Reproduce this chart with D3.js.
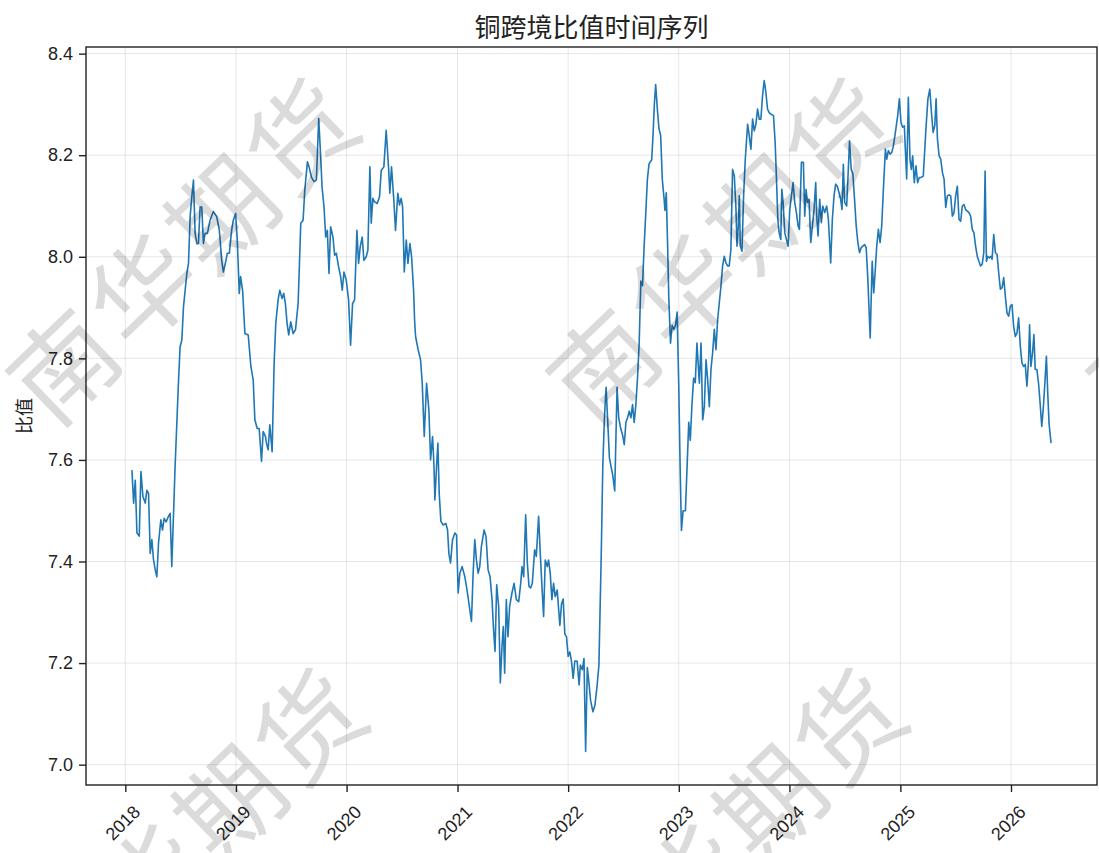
<!DOCTYPE html>
<html>
<head>
<meta charset="utf-8">
<script src="https://cdn.jsdelivr.net/npm/d3@7"></script>
<style>
  html, body { margin: 0; padding: 0; background: #fff; }
  svg { display: block; font-family: "Noto Sans CJK SC", "Noto Sans", sans-serif; }
</style>
</head>
<body>
<svg id="chart" width="1099" height="853"></svg>
<script>
// Weekly copper cross-border ratio (decimal years and ratio values)
const years = [
  2018.060,2018.075,2018.090,2018.105,2018.126,2018.141,2018.159,2018.180,2018.195,2018.210,
  2018.225,2018.240,2018.255,2018.270,2018.285,2018.300,2018.321,2018.336,2018.351,2018.369,
  2018.390,2018.405,2018.420,2018.450,2018.480,2018.495,2018.511,2018.526,2018.556,2018.571,
  2018.586,2018.601,2018.616,2018.631,2018.646,2018.661,2018.676,2018.691,2018.706,2018.721,
  2018.742,2018.766,2018.796,2018.826,2018.850,2018.871,2018.886,2018.910,2018.922,2018.940,
  2018.961,2018.976,2018.997,2019.012,2019.030,2019.042,2019.060,2019.081,2019.111,2019.135,
  2019.156,2019.171,2019.192,2019.210,2019.231,2019.246,2019.267,
  2019.276,2019.291,2019.306,2019.327,2019.345,2019.360,2019.381,2019.396,2019.417,2019.432,
  2019.447,2019.462,2019.477,2019.495,2019.517,2019.538,2019.562,2019.586,2019.607,2019.622,
  2019.646,2019.661,2019.682,2019.706,2019.727,2019.748,2019.766,2019.778,2019.796,2019.811,
  2019.826,2019.841,2019.856,2019.877,2019.892,2019.907,2019.928,2019.946,2019.961,2019.976,
  2019.997,2020.018,2020.036,2020.054,2020.072,2020.093,2020.108,2020.123,2020.141,2020.156,
  2020.177,2020.192,2020.210,2020.222,2020.237,2020.252,2020.276,2020.297,2020.312,2020.336,
  2020.357,2020.378,2020.390,2020.405,2020.426,2020.441,2020.462,2020.477,2020.492,2020.505,
  2020.520,2020.538,2020.553,2020.571,2020.586,2020.604,2020.613,
  2020.622,2020.646,2020.667,2020.682,2020.700,2020.721,2020.742,2020.757,2020.775,2020.787,
  2020.796,2020.811,2020.823,2020.835,2020.850,2020.871,2020.895,2020.910,2020.922,2020.937,
  2020.955,2020.976,2020.991,2021.006,2021.021,2021.042,2021.066,2021.090,2021.111,2021.126,
  2021.141,2021.156,2021.171,2021.186,2021.201,2021.216,2021.240,2021.258,2021.276,2021.294,
  2021.312,2021.324,2021.339,2021.354,2021.372,2021.387,2021.402,2021.414,2021.426,2021.441,
  2021.456,2021.471,2021.492,2021.511,2021.532,2021.553,2021.571,2021.583,2021.598,2021.616,
  2021.631,2021.646,2021.661,2021.676,2021.697,2021.712,2021.733,2021.748,2021.763,2021.778,
  2021.793,2021.811,2021.823,2021.838,2021.853,2021.868,2021.883,2021.901,
  2021.925,2021.940,2021.955,2021.970,2021.985,2022.000,2022.015,2022.030,2022.045,2022.060,
  2022.081,2022.099,2022.110,2022.128,2022.143,2022.158,2022.173,2022.188,2022.203,2022.224,
  2022.242,2022.260,2022.278,2022.299,2022.313,2022.328,2022.343,2022.358,2022.373,2022.388,
  2022.403,2022.421,2022.442,2022.457,2022.472,2022.493,2022.507,2022.522,2022.537,2022.552,
  2022.567,2022.582,2022.597,2022.612,2022.627,2022.642,2022.657,2022.672,2022.687,2022.701,
  2022.716,2022.731,2022.755,2022.767,2022.779,2022.791,2022.806,2022.821,2022.836,2022.851,
  2022.866,2022.875,2022.887,2022.899,2022.910,2022.925,2022.940,2022.955,2022.970,2022.985,
  2023.000,2023.012,2023.024,2023.039,2023.060,2023.075,2023.090,2023.104,2023.119,2023.134,
  2023.149,2023.164,
  2023.186,2023.201,2023.216,2023.231,2023.246,2023.261,2023.276,2023.291,2023.306,2023.321,
  2023.336,2023.351,2023.366,2023.381,2023.396,2023.411,2023.426,2023.441,2023.456,2023.471,
  2023.486,2023.502,2023.517,2023.526,2023.538,2023.547,2023.556,2023.571,2023.586,2023.601,
  2023.622,2023.637,2023.652,2023.667,2023.682,2023.697,2023.712,2023.727,2023.742,2023.757,
  2023.772,2023.787,2023.802,2023.817,2023.832,2023.856,2023.871,2023.883,2023.895,2023.907,
  2023.922,2023.931,2023.943,2023.958,2023.973,2023.988,2024.003,2024.018,2024.033,2024.048,
  2024.063,2024.078,2024.090,2024.108,2024.126,2024.138,2024.150,2024.162,2024.177,2024.192,
  2024.207,2024.222,2024.237,2024.246,2024.258,2024.273,2024.288,2024.300,2024.318,2024.336,
  2024.351,2024.372,2024.387,2024.402,2024.417,2024.432,2024.447,2024.462,2024.474,2024.486,
  2024.498,2024.516,
  2024.527,2024.542,2024.557,2024.572,2024.587,2024.602,2024.617,2024.632,2024.647,2024.662,
  2024.677,2024.692,2024.707,2024.728,2024.746,2024.760,2024.772,2024.787,2024.802,2024.817,
  2024.832,2024.847,2024.865,2024.877,2024.892,2024.907,2024.922,2024.937,2024.955,2024.976,
  2024.991,2025.006,2025.021,2025.036,2025.045,2025.057,2025.072,2025.087,2025.099,2025.111,
  2025.126,2025.141,2025.156,2025.171,2025.186,2025.207,2025.231,2025.249,2025.266,2025.281,
  2025.296,2025.311,2025.323,2025.335,2025.350,2025.365,2025.380,2025.395,2025.410,2025.425,
  2025.440,2025.455,2025.470,2025.485,2025.500,2025.515,2025.530,2025.545,2025.560,2025.575,
  2025.590,2025.605,2025.620,2025.635,2025.650,2025.665,2025.680,2025.695,2025.710,2025.725,
  2025.740,2025.754,2025.766,2025.778,2025.790,2025.805,2025.820,2025.829,2025.844,2025.859,
  2025.874,2025.889,2025.904,2025.919,2025.934,2025.949,2025.964,2025.979,2025.994,2026.009,
  2026.024,2026.039,2026.054,2026.069,2026.084,2026.099,2026.114,2026.129,2026.144,2026.159,
  2026.168,2026.180,2026.195,2026.207,2026.219,2026.234,2026.249,2026.263,2026.278,2026.293,
  2026.308,2026.320,2026.332,2026.344,2026.362
];

const ratio = [
  7.580,7.515,7.560,7.456,7.450,7.577,7.528,7.515,7.540,7.534,
  7.416,7.443,7.403,7.384,7.370,7.436,7.482,7.462,7.485,7.478,
  7.489,7.495,7.390,7.587,7.751,7.823,7.836,7.902,7.967,7.987,
  8.079,8.118,8.151,8.046,8.026,8.026,8.098,8.098,8.026,8.046,
  8.046,8.072,8.089,8.079,8.052,7.993,7.970,7.993,8.007,8.007,
  8.052,8.072,8.085,8.033,7.928,7.961,7.934,7.849,7.846,7.784,
  7.757,7.679,7.662,7.662,7.597,7.656,7.646,
  7.633,7.620,7.669,7.616,7.790,7.869,7.915,7.934,7.918,7.928,
  7.908,7.869,7.846,7.872,7.849,7.856,7.908,8.066,8.072,8.131,
  8.187,8.177,8.157,8.148,8.151,8.272,8.197,8.138,8.098,8.039,
  8.052,7.967,8.059,8.039,8.003,8.007,7.980,7.961,7.934,7.970,
  7.954,7.915,7.826,7.908,7.915,8.052,7.987,8.020,8.039,7.993,
  8.000,8.013,8.177,8.066,8.115,8.108,8.105,8.118,8.170,8.177,
  8.249,8.177,8.125,8.177,8.111,8.052,8.125,8.102,8.115,8.098,
  7.970,8.033,7.987,8.026,8.000,7.934,7.875,
  7.843,7.816,7.797,7.751,7.646,7.751,7.698,7.600,7.646,7.593,
  7.521,7.587,7.633,7.534,7.479,7.472,7.475,7.462,7.416,7.397,
  7.443,7.456,7.452,7.338,7.377,7.390,7.370,7.338,7.305,7.282,
  7.377,7.443,7.403,7.377,7.390,7.430,7.462,7.449,7.384,7.370,
  7.325,7.272,7.223,7.354,7.311,7.161,7.233,7.272,7.180,7.325,
  7.252,7.311,7.338,7.357,7.325,7.321,7.357,7.390,7.370,7.492,
  7.397,7.351,7.348,7.357,7.423,7.410,7.489,7.416,7.351,7.292,
  7.403,7.390,7.403,7.377,7.325,7.357,7.331,7.344,
  7.274,7.317,7.326,7.257,7.252,7.213,7.222,7.204,7.170,7.204,
  7.204,7.157,7.196,7.187,7.209,7.026,7.191,7.161,7.126,7.104,
  7.117,7.152,7.196,7.413,7.587,7.683,7.743,7.674,7.604,7.587,
  7.570,7.539,7.743,7.683,7.665,7.648,7.630,7.674,7.683,7.696,
  7.683,7.709,7.674,7.709,7.761,7.830,7.952,7.943,8.022,8.083,
  8.152,8.183,8.191,8.239,8.300,8.339,8.291,8.252,8.239,8.152,
  8.117,8.091,8.126,8.022,7.917,7.830,7.865,7.857,7.865,7.891,
  7.743,7.587,7.461,7.500,7.500,7.587,7.674,7.639,7.709,7.761,
  7.752,7.830,
  7.751,7.830,7.679,7.705,7.797,7.758,7.705,7.778,7.811,7.857,
  7.817,7.876,7.909,7.942,7.982,8.001,7.988,7.982,7.982,8.014,
  8.172,8.159,8.093,8.021,8.061,8.120,8.021,8.011,8.120,8.192,
  8.261,8.238,8.212,8.271,8.248,8.261,8.291,8.271,8.271,8.317,
  8.347,8.324,8.291,8.284,8.281,8.278,8.225,8.153,8.074,8.047,
  8.034,8.133,8.107,8.047,8.034,8.021,8.093,8.120,8.146,8.107,
  8.087,8.061,8.054,8.186,8.186,8.080,8.133,8.107,8.113,8.028,
  8.061,8.093,8.146,8.080,8.041,8.113,8.067,8.100,8.087,8.100,
  8.074,7.988,8.074,8.120,8.143,8.139,8.126,8.113,8.093,8.182,
  8.107,8.100,
  8.153,8.228,8.172,8.163,8.113,8.061,8.028,8.008,8.018,8.021,
  8.024,8.018,7.955,7.840,7.991,7.929,7.968,8.021,8.054,8.028,
  8.061,8.133,8.212,8.192,8.209,8.202,8.205,8.218,8.245,8.278,
  8.311,8.264,8.255,8.258,8.212,8.153,8.314,8.192,8.172,8.199,
  8.146,8.179,8.146,8.156,8.156,8.159,8.251,8.311,8.330,8.284,
  8.245,8.258,8.311,8.232,8.199,8.192,8.166,8.153,8.097,8.120,
  8.122,8.120,8.080,8.087,8.120,8.139,8.074,8.070,8.100,8.103,
  8.093,8.090,8.087,8.080,8.054,8.047,8.021,8.001,7.991,7.982,
  7.986,8.008,8.169,7.991,8.001,7.998,8.001,7.995,8.044,8.008,
  8.005,7.968,7.936,7.939,7.959,7.922,7.889,7.883,7.903,7.906,
  7.863,7.843,7.850,7.880,7.824,7.791,7.784,7.788,7.745,7.797,
  7.866,7.784,7.811,7.847,7.778,7.778,7.751,7.712,7.666,7.705,
  7.758,7.804,7.732,7.672,7.633
];

const yTicks = [7.0, 7.2, 7.4, 7.6, 7.8, 8.0, 8.2, 8.4];
const titleText = "铜跨境比值时间序列";
const yLabelText = "比值";
const watermarkText = "南华期货";

// decimal year -> UTC date
function toDate(y) {
  const yr = Math.floor(y);
  const a = Date.UTC(yr, 0, 1), b = Date.UTC(yr + 1, 0, 1);
  return new Date(a + (y - yr) * (b - a));
}
const data = years.map((y, i) => ({ date: toDate(y), value: ratio[i] }));

const W = 1099, H = 853;
const margin = { left: 86, top: 47, right: 1097, bottom: 785 };

const svg = d3.select("#chart");
svg.append("rect").attr("width", W).attr("height", H).attr("fill", "#fff");

// 5% padding on both axes
const tExt = d3.extent(data, d => +d.date);
const tPad = (tExt[1] - tExt[0]) * 0.05;
const vExt = d3.extent(data, d => d.value);
const vPad = (vExt[1] - vExt[0]) * 0.05;

const x = d3.scaleUtc()
  .domain([new Date(tExt[0] - tPad), new Date(tExt[1] + tPad)])
  .range([margin.left, margin.right]);
const y = d3.scaleLinear()
  .domain([vExt[0] - vPad, vExt[1] + vPad])
  .range([margin.bottom, margin.top]);

const xTicks = d3.utcYear.range(d3.utcYear.ceil(x.domain()[0]), x.domain()[1]);

// grid
const grid = svg.append("g").attr("stroke", "#b0b0b0").attr("stroke-opacity", 0.3).attr("stroke-width", 1);
xTicks.forEach(t => grid.append("line")
  .attr("x1", x(t)).attr("x2", x(t)).attr("y1", margin.top).attr("y2", margin.bottom));
yTicks.forEach(v => grid.append("line")
  .attr("x1", margin.left).attr("x2", margin.right).attr("y1", y(v)).attr("y2", y(v)));

// series line
const line = d3.line().x(d => x(d.date)).y(d => y(d.value));
svg.append("path").datum(data)
  .attr("d", line)
  .attr("fill", "none")
  .attr("stroke", "#1f77b4")
  .attr("stroke-width", 1.6)
  .attr("stroke-linejoin", "round");

// axes
const xAxis = svg.append("g")
  .attr("transform", `translate(0,${margin.bottom})`)
  .call(d3.axisBottom(x).tickValues(xTicks).tickFormat(d3.utcFormat("%Y")).tickSize(7).tickPadding(4));
xAxis.select(".domain").remove();
xAxis.selectAll("line").attr("stroke", "#222").attr("stroke-width", 1.4);
xAxis.selectAll("text")
  .attr("font-size", 18).attr("fill", "#222")
  .attr("text-anchor", "middle").attr("dy", null)
  .attr("dominant-baseline", "central")
  .attr("transform", "translate(-3,38) rotate(-45)")
  .attr("y", 0);

const yAxis = svg.append("g")
  .attr("transform", `translate(${margin.left},0)`)
  .call(d3.axisLeft(y).tickValues(yTicks).tickFormat(d3.format(".1f")).tickSize(7).tickPadding(6));
yAxis.select(".domain").remove();
yAxis.selectAll("line").attr("stroke", "#222").attr("stroke-width", 1.4);
yAxis.selectAll("text").attr("font-size", 18).attr("fill", "#222");

// frame
svg.append("rect")
  .attr("x", margin.left).attr("y", margin.top)
  .attr("width", margin.right - margin.left).attr("height", margin.bottom - margin.top)
  .attr("fill", "none").attr("stroke", "#222").attr("stroke-width", 1.4);

// title and axis label
svg.append("text").attr("x", (margin.left + margin.right) / 2).attr("y", 37)
  .attr("text-anchor", "middle").attr("font-size", 26).attr("fill", "#222").text(titleText);
svg.append("text")
  .attr("transform", `translate(31,${(margin.top + margin.bottom) / 2}) rotate(-90)`)
  .attr("text-anchor", "middle").attr("font-size", 18).attr("fill", "#222").text(yLabelText);

// tiled watermark
const wm = svg.append("g").attr("pointer-events", "none");
const wmCols = [180, 720, 1260];
const wmRows = [245, 835];
wmRows.forEach((cy, j) => wmCols.forEach(cx => {
  wm.append("text")
    .attr("transform", `translate(${cx + j * 8},${cy}) rotate(-44)`)
    .attr("text-anchor", "middle").attr("dominant-baseline", "central")
    .attr("font-size", 104).attr("letter-spacing", 6)
    .attr("fill", "#000").attr("fill-opacity", 0.14)
    .text(watermarkText);
}));
</script>
</body>
</html>
